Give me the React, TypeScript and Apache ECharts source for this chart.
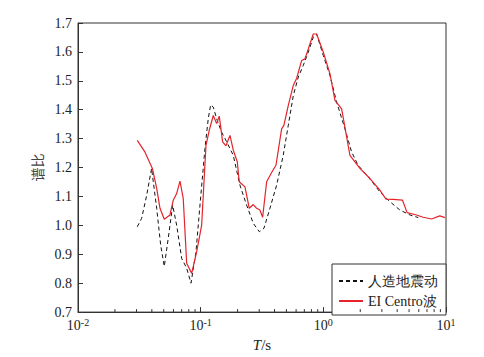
import React, { useEffect, useRef } from "react";
import * as echarts from "echarts";

const redT = [0.0304,0.0351,0.0404,0.0438,0.0466,0.0505,0.0562,0.0598,0.0637,0.0678,0.0721,0.0769,0.0845,0.0928,0.1019,0.1105,0.1175,0.1267,0.135,0.1418,0.151,0.1607,0.1733,0.1845,0.1988,0.2063,0.2297,0.249,0.2685,0.2858,0.304,0.32,0.345,0.379,0.411,0.457,0.477,0.518,0.569,0.606,0.665,0.708,0.754,0.828,0.882,1.0,1.133,1.244,1.41,1.648,1.987,2.40,2.89,3.24,3.71,4.42,4.82,5.75,6.51,7.62,8.91,9.79];
const redV = [1.294,1.254,1.197,1.128,1.059,1.021,1.036,1.087,1.110,1.153,1.093,0.869,0.834,0.909,1.001,1.277,1.329,1.380,1.352,1.378,1.289,1.275,1.311,1.260,1.220,1.151,1.133,1.059,1.072,1.059,1.053,1.028,1.151,1.183,1.208,1.334,1.346,1.415,1.484,1.509,1.570,1.576,1.610,1.662,1.662,1.599,1.524,1.432,1.403,1.242,1.197,1.162,1.122,1.091,1.090,1.087,1.044,1.036,1.028,1.022,1.033,1.027];

const blackT = [0.0304,0.033,0.0363,0.0398,0.0438,0.0472,0.0505,0.0544,0.0591,0.0637,0.070,0.0769,0.0834,0.0916,0.0987,0.1084,0.1153,0.1206,0.1267,0.135,0.148,0.163,0.1845,0.209,0.237,0.2685,0.301,0.328,0.367,0.416,0.471,0.518,0.569,0.625,0.686,0.754,0.828,0.882,1.0,1.133,1.283,1.50,1.70,1.92,2.32,2.89,3.49,4.21,5.08,5.94];
const blackV = [0.995,1.024,1.104,1.197,1.059,0.932,0.858,0.955,1.070,1.001,0.886,0.852,0.800,0.909,1.070,1.266,1.369,1.417,1.409,1.369,1.323,1.289,1.242,1.139,1.070,1.007,0.978,0.990,1.059,1.139,1.242,1.346,1.449,1.513,1.553,1.599,1.651,1.662,1.587,1.518,1.427,1.334,1.254,1.208,1.168,1.116,1.082,1.053,1.036,1.027];

const minorTickValues = [0.02,0.03,0.04,0.05,0.06,0.07,0.08,0.09,0.2,0.3,0.4,0.5,0.6,0.7,0.8,0.9,2,3,4,5,6,7,8,9];

const seriesNames = ["人造地震动", "EI Centro波"];

export default function App() {
  const ref = useRef<HTMLDivElement>(null);
  useEffect(() => {
    const chart = echarts.init(ref.current!, null, { renderer: "svg" });
    const serif = "Liberation Serif";
    const axisColor = "#333";
    chart.setOption({
      animation: false,
      textStyle: { fontFamily: serif },
      grid: { left: 78, right: 38, top: 23, bottom: 42, show: true, borderColor: axisColor, borderWidth: 1, backgroundColor: "transparent" },
      legend: {
        data: seriesNames,
        orient: "vertical",
        right: 38,
        bottom: 42,
        backgroundColor: "#fff",
        borderColor: axisColor,
        borderWidth: 1,
        borderRadius: 0,
        padding: [10, 8, 7, 6],
        itemGap: 6,
        itemWidth: 24,
        itemHeight: 14,
        itemStyle: { opacity: 0 },
        textStyle: { fontFamily: serif, fontSize: 14, color: "#222" },
      },
      xAxis: {
        type: "log",
        logBase: 10,
        min: 0.01,
        max: 10,
        name: "{i|T}/s",
        nameLocation: "middle",
        nameGap: 24,
        nameTextStyle: {
          fontSize: 15,
          color: "#222",
          fontFamily: serif,
          rich: { i: { fontStyle: "italic", fontSize: 15, fontFamily: serif, color: "#222" } },
        },
        axisLine: { show: true, lineStyle: { color: axisColor } },
        axisTick: { show: true, inside: true, length: 5, lineStyle: { color: axisColor } },
        splitLine: { show: false },
        axisLabel: {
          margin: 5,
          color: "#222",
          fontSize: 14,
          fontFamily: serif,
          formatter: (v: number) => `10{s|${Math.round(Math.log10(v))}}`,
          rich: { s: { fontSize: 10, verticalAlign: "top", fontFamily: serif, color: "#222", padding: [0, 0, 6, 0] } },
        },
      },
      yAxis: {
        type: "value",
        min: 0.7,
        max: 1.7,
        interval: 0.1,
        name: "谱比",
        nameLocation: "middle",
        nameRotate: 90,
        nameGap: 31,
        nameTextStyle: { fontSize: 14, color: "#444", fontFamily: "Noto Sans CJK SC" },
        axisLine: { show: true, lineStyle: { color: axisColor } },
        axisTick: { show: true, inside: true, length: 5, lineStyle: { color: axisColor } },
        splitLine: { show: false },
        axisLabel: { color: "#222", fontSize: 14, fontFamily: serif, margin: 6, formatter: (v: number) => v.toFixed(1) },
      },
      series: [
        {
          type: "custom",
          silent: true,
          clip: false,
          data: minorTickValues.map((v) => [v, 0.7]),
          encode: { x: 0, y: 1 },
          renderItem: (params: any, api: any) => {
            const p = api.coord([api.value(0), api.value(1)]);
            return {
              type: "line",
              shape: { x1: p[0], y1: p[1], x2: p[0], y2: p[1] - 3 },
              style: { stroke: axisColor, lineWidth: 1 },
            };
          },
          z: 5,
        },
        {
          name: seriesNames[0],
          type: "line",
          data: blackT.map((t, i) => [t, blackV[i]]),
          symbol: "none",
          lineStyle: { color: "#111", width: 1, type: [4, 3] },
          itemStyle: { color: "#111" },
          z: 2,
        },
        {
          name: seriesNames[1],
          type: "line",
          data: redT.map((t, i) => [t, redV[i]]),
          symbol: "none",
          lineStyle: { color: "#e3242b", width: 1.2 },
          itemStyle: { color: "#e3242b" },
          z: 3,
        },
      ],
    });
    return () => chart.dispose();
  }, []);
  return <div ref={ref} style={{ position: "fixed", left: 0, top: 0, width: 484, height: 357, background: "#fff" }} />;
}
